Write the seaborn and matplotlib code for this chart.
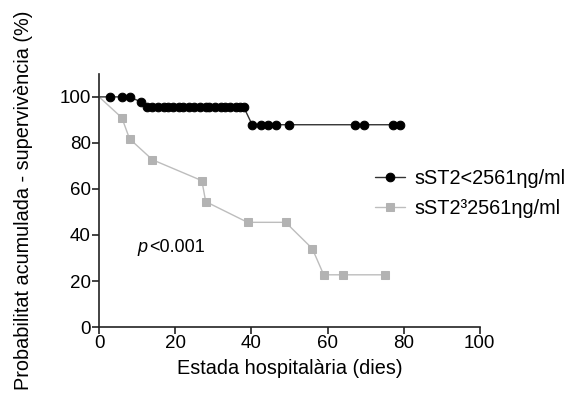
import numpy as np
import pandas as pd
import matplotlib
matplotlib.use('Agg')
import matplotlib.pyplot as plt
import seaborn as sns

# survival curves (first point at day 0 has no marker)
low_days = [0, 3, 6, 8, 11,
            12.5, 14, 15.5, 17, 18, 19.5, 21, 22, 23.5, 25, 26.5, 28, 29,
            30.5, 32, 33, 34.5, 36, 37, 38,
            40.2, 42.4, 44.4, 46.6, 49.9, 67.2, 69.6, 77.2, 79]
low_surv = [100, 100, 100, 100, 97.8] + [95.6] * 20 + [87.9] * 9

high_days = [0, 6, 8, 14, 27, 28, 39, 49, 56, 59, 64, 75]
high_surv = [100, 90.9, 81.8, 72.7, 63.6, 54.5, 45.5, 45.5, 34.1, 22.7, 22.7, 22.7]

labels = ['sST2<2561ηg/ml', 'sST2³2561ηg/ml']

sns.set_style('ticks')
plt.rcParams['font.family'] = ['Liberation Sans', 'DejaVu Sans']
plt.rcParams.update({'text.color': 'black', 'axes.labelcolor': 'black',
                     'xtick.color': 'black', 'ytick.color': 'black'})

low = pd.DataFrame({'dies': low_days, 'surv': low_surv})
high = pd.DataFrame({'dies': high_days, 'surv': high_surv})

fig = plt.figure(figsize=(5.76, 3.95), dpi=100)
ax = fig.add_axes([0.172, 0.172, 0.661, 0.641])

sns.lineplot(data=high, x='dies', y='surv', estimator=None, sort=False,
             color='#bdbdbd', lw=1, marker='s', markersize=5.8,
             markerfacecolor='#b3b3b3', markeredgecolor='#b3b3b3',
             markevery=slice(1, None), label=labels[1], ax=ax, zorder=2)
sns.lineplot(data=low, x='dies', y='surv', estimator=None, sort=False,
             color='#333333', lw=1, marker='o', markersize=6.2,
             markerfacecolor='black', markeredgecolor='black',
             markevery=slice(1, None), label=labels[0], ax=ax, zorder=3)

ax.set_xlim(0, 100)
ax.set_ylim(0, 110)
ax.set_xticks(range(0, 101, 20))
ax.set_yticks(range(0, 101, 20))
ax.tick_params(labelsize=13.5, length=5, width=1.2, color='#222222', pad=1)
for s in ['left', 'bottom']:
    ax.spines[s].set_linewidth(1.2)
    ax.spines[s].set_color('#222222')
sns.despine(ax=ax)

ax.set_xlabel('Estada hospitalària (dies)', fontsize=14.3, labelpad=5)
ax.set_ylabel('Probabilitat acumulada - supervivència (%)', fontsize=14.3, labelpad=19)

ax.text(10, 34.4, 'p', fontsize=13, style='italic', va='center')
ax.text(13.2, 34.4, '<0.001', fontsize=13, va='center')

h, l = ax.get_legend_handles_labels()
ax.legend(h[::-1], l[::-1], loc='center left', bbox_to_anchor=(0.62, 0.511),
          bbox_transform=fig.transFigure, frameon=False, fontsize=14.3,
          handlelength=1.5, handletextpad=0.5, labelspacing=0.55)

fig.savefig('out.png', dpi=100)
